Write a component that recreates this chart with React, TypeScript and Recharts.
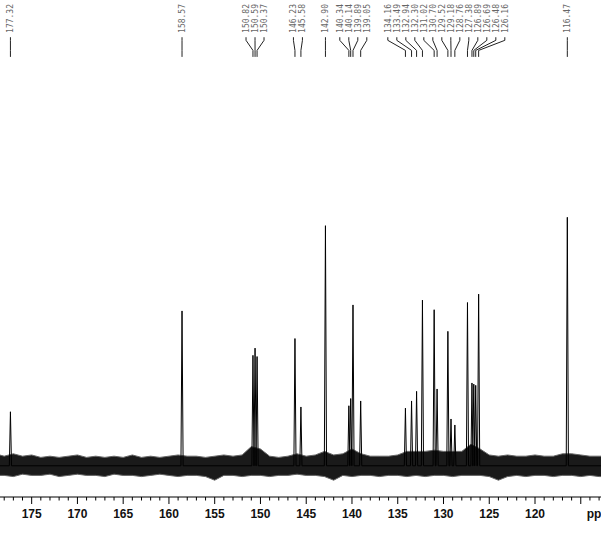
import React from 'react'
import { Area, ComposedChart, Line, Scatter, XAxis, YAxis } from 'recharts'

// picked peaks (ppm) and their heights
const peakPpm = [
  177.32, 158.57, 150.82, 150.59, 150.37, 146.23, 145.58, 142.9, 140.34, 140.14, 139.89, 139.05,
  134.16, 133.49, 132.94, 132.3, 131.02, 130.7, 129.52, 129.18, 128.76, 127.38, 126.89, 126.69,
  126.48, 126.16, 116.47
]
const peakHeight = [
  22.5, 64.5, 46, 49, 45.5, 53, 24.5, 100, 25, 28, 67, 27,
  24, 27, 31, 69, 65, 32, 56, 19.5, 17, 68, 34.5, 34,
  33.5, 71.5, 103.5
]

// baseline noise envelope, roughly one entry per ppm across the window
const noisePpm = [
  178.5, 178, 177, 176, 175, 174, 173, 172, 171, 170, 169, 168, 167, 166, 165, 164, 163, 162, 161, 160, 159, 158, 157,
  156, 155, 154, 153, 152, 151, 150, 149, 148, 147, 146, 145, 144, 143, 142, 141, 140, 139, 138, 137, 136, 135,
  134, 133, 132, 131, 130, 129, 128, 127, 126, 125, 124, 123, 122, 121, 120, 119, 118, 117, 116, 115, 114, 113, 112.7
]
const noiseHigh = [
  4.5, 4, 5, 4, 4.5, 3.5, 4, 3.5, 4, 4.5, 3.5, 4, 3.5, 4, 3.5, 4.5, 3.5, 4, 3.5, 4, 4.5, 4, 4,
  3.5, 4, 4.5, 4, 4.5, 8, 7, 4, 3.5, 4, 5, 4, 4.5, 6, 4.5, 5, 7, 5, 4, 4,
  4, 4.5, 6, 6, 6, 6.5, 6, 6, 6, 9, 7, 4.5, 4, 4.5, 4, 4, 4.5, 4, 4, 5, 5, 4.5, 4, 4, 4
]
const noiseLow = [
  -4, -4, -4.5, -3.5, -4, -4, -3.5, -4.5, -4, -3.5, -4, -4, -4.5, -3.5, -4, -4, -4.5, -4, -3.5, -4, -4.5, -4, -4,
  -4.5, -6, -4, -4, -4.5, -4, -4, -4.5, -4, -4, -3.5, -4, -4, -4.5, -6, -4, -4.5, -4, -4, -4.5,
  -4, -4, -4.5, -4, -4.5, -4, -4, -4.5, -4, -4, -4, -4.5, -6, -4.5, -4, -4.5, -4, -4, -4.5, -4, -4, -4.5, -4, -4.5, -4.5
]

// axis ticks: every ppm, labelled every 5
const axisTicks = [
  178, 177, 176, 175, 174, 173, 172, 171, 170, 169, 168, 167, 166, 165, 164, 163, 162, 161, 160, 159, 158, 157,
  156, 155, 154, 153, 152, 151, 150, 149, 148, 147, 146, 145, 144, 143, 142, 141, 140, 139, 138, 137, 136, 135,
  134, 133, 132, 131, 130, 129, 128, 127, 126, 125, 124, 123, 122, 121, 120, 119, 118, 117, 116, 115, 114, 113
]

const W = 601
const H = 548
const X_DOMAIN: [number, number] = [112.79, 178.46]
const Y_DOMAIN: [number, number] = [-13, 194]
const PEAK_HALF = 0.12
const LABEL_GAP_PX = 9
const LABEL_Y = 180.3
const CONN_TOP = 178.5
const CONN_BEND1 = 177.2
const CONN_BEND2 = 173
const CONN_BOTTOM = 170.3

const spectrum = (() => {
  const pts: { x: number; y: number }[] = [{ x: X_DOMAIN[1], y: 0 }]
  peakPpm.forEach((p, i) => {
    pts.push({ x: p + PEAK_HALF, y: 0 })
    pts.push({ x: p, y: peakHeight[i] })
    pts.push({ x: p - PEAK_HALF, y: 0 })
  })
  pts.push({ x: X_DOMAIN[0], y: 0 })
  return pts
})()

const noise = noisePpm.map((x, i) => ({ x, band: [noiseLow[i], noiseHigh[i]] }))

// spread labels so they don't overlap, like the NMR software does
function spreadLabels(ppms: number[], gap: number) {
  const u = ppms.map((p) => -p)
  type G = { idx: number[]; first: number }
  const groups: G[] = []
  const place = (idx: number[]) => {
    const mean = idx.reduce((s, i) => s + u[i], 0) / idx.length
    return mean - ((idx.length - 1) / 2) * gap
  }
  u.forEach((_, i) => {
    let g: G = { idx: [i], first: u[i] }
    while (groups.length) {
      const prev = groups[groups.length - 1]
      if (prev.first + prev.idx.length * gap > g.first) {
        groups.pop()
        const idx = [...prev.idx, ...g.idx]
        g = { idx, first: place(idx) }
      } else break
    }
    groups.push(g)
  })
  const out: number[] = []
  groups.forEach((g) => g.idx.forEach((_, k) => out.push(-(g.first + k * gap))))
  return out
}

const pxPerPpm = W / (X_DOMAIN[1] - X_DOMAIN[0])
const labelPpm = spreadLabels(peakPpm, LABEL_GAP_PX / pxPerPpm)
const labels = peakPpm.map((p, i) => ({ x: labelPpm[i], y: LABEL_Y, text: p.toFixed(2) }))
const connectors = peakPpm.map((p, i) => [
  { x: labelPpm[i], y: CONN_TOP },
  { x: labelPpm[i], y: CONN_BEND1 },
  { x: p, y: CONN_BEND2 },
  { x: p, y: CONN_BOTTOM }
])

function LabelShape(props: any) {
  const { cx, cy, payload } = props
  const x = cx + 3
  return (
    <text
      x={x}
      y={cy}
      transform={`rotate(-90 ${x} ${cy})`}
      fontSize={8}
      fontFamily="DejaVu Sans Mono"
      fill="#666"
    >
      {payload.text}
    </text>
  )
}

function AxisTick(props: any) {
  const { x, y, payload } = props
  const v = payload.value
  const major = v % 5 === 0
  return (
    <g>
      <line x1={x} x2={x} y1={y} y2={y + (major ? 7 : 3.5)} stroke="#000" strokeWidth={1} />
      {major && v !== 115 && (
        <text x={x} y={y + 21} textAnchor="middle" fontSize={12} fontWeight="bold" fontFamily="Liberation Sans" fill="#111">
          {v}
        </text>
      )}
      {v === 115 && (
        <text x={x + 6} y={y + 21} textAnchor="start" fontSize={12} fontWeight="bold" fontFamily="Liberation Sans" fill="#111">
          ppm
        </text>
      )}
    </g>
  )
}

export default function App() {
  return (
    <div style={{ position: 'absolute', left: 0, top: 0, width: W, height: H, background: '#fff' }}>
      <ComposedChart width={W} height={H} margin={{ top: 0, right: 0, bottom: 0, left: 0 }}>
        <XAxis
          type="number"
          dataKey="x"
          domain={X_DOMAIN}
          reversed
          allowDataOverflow
          ticks={axisTicks}
          interval={0}
          height={51}
          tickSize={0}
          tickMargin={0}
          tickLine={false}
          tick={<AxisTick />}
          axisLine={{ stroke: '#000', strokeWidth: 1 }}
        />
        <YAxis type="number" domain={Y_DOMAIN} allowDataOverflow hide />
        <Area
          data={noise}
          dataKey="band"
          type="linear"
          stroke="#666"
          strokeWidth={1}
          fill="#1a1a1a"
          fillOpacity={1}
          dot={false}
          activeDot={false}
          isAnimationActive={false}
        />
        <Line
          data={spectrum}
          dataKey="y"
          type="linear"
          stroke="#000"
          strokeWidth={1}
          dot={false}
          activeDot={false}
          isAnimationActive={false}
        />
        {connectors.map((c, i) => (
          <Line
            key={i}
            data={c}
            dataKey="y"
            type="linear"
            stroke="#222"
            strokeWidth={1}
            dot={false}
            activeDot={false}
            isAnimationActive={false}
          />
        ))}
        <Scatter data={labels} dataKey="y" shape={<LabelShape />} isAnimationActive={false} />
      </ComposedChart>
    </div>
  )
}
